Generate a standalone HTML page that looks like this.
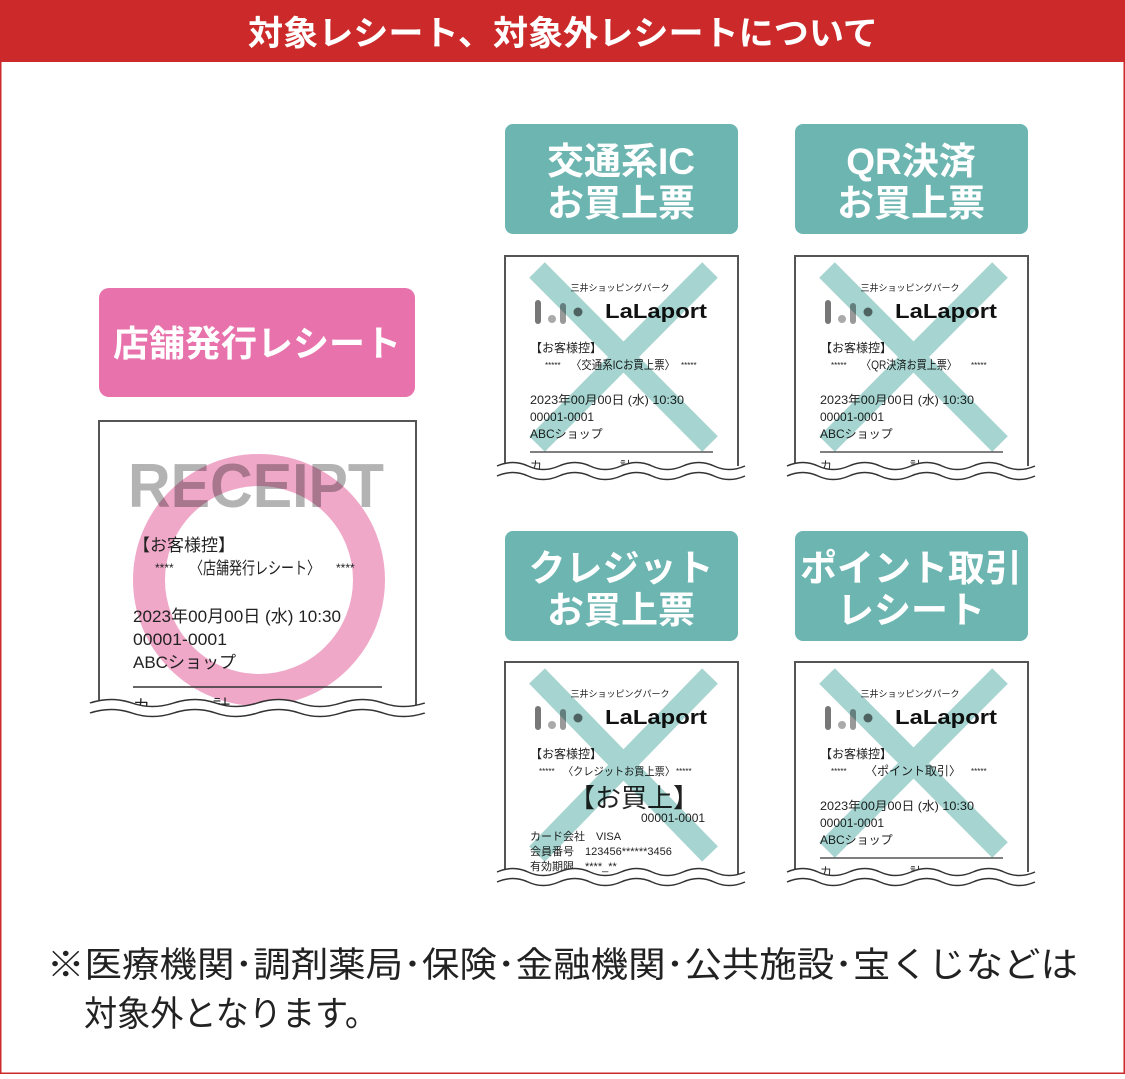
<!DOCTYPE html>
<html><head><meta charset="utf-8"><style>
html,body{margin:0;padding:0;background:#fff}
svg text{font-family:"Liberation Sans","Noto Sans CJK JP",sans-serif}
</style></head><body>
<svg width="1125" height="1074" viewBox="0 0 1125 1074" xmlns="http://www.w3.org/2000/svg">
<defs>
<g id="wave">
<path d="M0,6 q16,-7 31,0 t31,0 t31,0 t31,0 t31,0 t31,0 t31,0 t31,0 V30 H0 Z" fill="#fff" stroke="none"/>
<path d="M0,6 q16,-7 31,0 t31,0 t31,0 t31,0 t31,0 t31,0 t31,0 t31,0" fill="none" stroke="#333" stroke-width="1.5"/>
<path d="M0,16 q16,-7 31,0 t31,0 t31,0 t31,0 t31,0 t31,0 t31,0 t31,0" fill="none" stroke="#333" stroke-width="1.5"/>
</g>
<g id="logo">
<text x="115" y="35" font-size="9" text-anchor="middle" fill="#222">三井ショッピングパーク</text>
<rect x="30" y="44" width="6" height="24" rx="3" fill="#777"/>
<circle cx="47" cy="63" r="4" fill="#aaa"/>
<rect x="55" y="47" width="6" height="21" rx="3" fill="#999"/>
<circle cx="73" cy="56" r="4.5" fill="#777"/>
<text x="100" y="62" font-size="20" font-weight="bold" fill="#111" textLength="102" lengthAdjust="spacingAndGlyphs">LaLaport</text>
</g>
</defs>
<rect x="0.75" y="0.75" width="1123.5" height="1072.5" fill="#fff" stroke="#cc2a2a" stroke-width="1.5"/>
<rect x="0" y="0" width="1125" height="62" fill="#cc2a2a"/>
<text x="248" y="45" font-size="34" font-weight="bold" fill="#fff" textLength="630" lengthAdjust="spacingAndGlyphs">対象レシート、対象外レシートについて</text>

<!-- Pink label -->
<rect x="99" y="288" width="316" height="109" rx="10" fill="#e872ab"/>
<text x="257" y="356" font-size="36" font-weight="bold" fill="#fff" text-anchor="middle">店舗発行レシート</text>

<!-- Left receipt -->
<path d="M99,705 V421 H416 V705" fill="none" stroke="#555" stroke-width="2"/>
<text x="128" y="507" font-size="62" font-weight="bold" fill="#b3b3b3" textLength="256" lengthAdjust="spacingAndGlyphs">RECEIPT</text>
<circle cx="259" cy="580" r="110" fill="none" stroke="#f0a8c9" stroke-width="32" style="mix-blend-mode:multiply"/>
<g font-size="17" fill="#222">
<text x="133" y="551">【お客様控】</text>
<text x="155" y="572" font-size="12">****</text>
<text x="190" y="574" textLength="130" lengthAdjust="spacingAndGlyphs">〈店舗発行レシート〉</text>
<text x="336" y="572" font-size="12">****</text>
<text x="133" y="622" textLength="208" lengthAdjust="spacingAndGlyphs">2023年00月00日 (水) 10:30</text>
<text x="133" y="645" textLength="94" lengthAdjust="spacingAndGlyphs">00001-0001</text>
<text x="133" y="668">ABCショップ</text>
<text x="133" y="712">カ</text><text x="213" y="712">計</text>
</g>
<line x1="133" y1="687" x2="382" y2="687" stroke="#333" stroke-width="1.5"/>
<g transform="translate(90,697) scale(1.35,1)"><use href="#wave"/></g>

<!-- Teal labels -->
<g fill="#6cb5b1">
<rect x="505" y="124" width="233" height="110" rx="8"/>
<rect x="795" y="124" width="233" height="110" rx="8"/>
<rect x="505" y="531" width="233" height="110" rx="8"/>
<rect x="795" y="531" width="233" height="110" rx="8"/>
</g>
<g font-size="37" font-weight="bold" fill="#fff" text-anchor="middle">
<text x="621" y="174">交通系IC</text><text x="621" y="216">お買上票</text>
<text x="911" y="174">QR決済</text><text x="911" y="216">お買上票</text>
<text x="621" y="581">クレジット</text><text x="621" y="623">お買上票</text>
<text x="911" y="581">ポイント取引</text><text x="911" y="623">レシート</text>
</g>

<!-- Receipt 1 -->
<g transform="translate(505,256)">
<path d="M0,210 V0 H233 V210" fill="none" stroke="#555" stroke-width="2"/>
<use href="#logo"/>
<g font-size="12" fill="#222">
<text x="25" y="96">【お客様控】</text>
<text x="40" y="112" font-size="8">*****</text>
<text x="66" y="113" textLength="104" lengthAdjust="spacingAndGlyphs">〈交通系ICお買上票〉</text>
<text x="176" y="112" font-size="8">*****</text>
<text x="25" y="148" textLength="154" lengthAdjust="spacingAndGlyphs">2023年00月00日 (水) 10:30</text>
<text x="25" y="165">00001-0001</text>
<text x="25" y="182">ABCショップ</text>
<text x="25" y="214">カ</text><text x="115" y="214">計</text>
</g>
<line x1="25" y1="196" x2="208" y2="196" stroke="#333" stroke-width="1.2"/>
<g stroke="#a6d4d0" stroke-width="22" style="mix-blend-mode:multiply"><line x1="32" y1="14" x2="205" y2="188"/><line x1="205" y1="14" x2="32" y2="188"/></g>
<g transform="translate(-8,204)"><use href="#wave"/></g>
</g>

<!-- Receipt 2 -->
<g transform="translate(795,256)">
<path d="M0,210 V0 H233 V210" fill="none" stroke="#555" stroke-width="2"/>
<use href="#logo"/>
<g font-size="12" fill="#222">
<text x="25" y="96">【お客様控】</text>
<text x="36" y="112" font-size="8">*****</text>
<text x="66" y="113" textLength="96" lengthAdjust="spacingAndGlyphs">〈QR決済お買上票〉</text>
<text x="176" y="112" font-size="8">*****</text>
<text x="25" y="148" textLength="154" lengthAdjust="spacingAndGlyphs">2023年00月00日 (水) 10:30</text>
<text x="25" y="165">00001-0001</text>
<text x="25" y="182">ABCショップ</text>
<text x="25" y="214">カ</text><text x="115" y="214">計</text>
</g>
<line x1="25" y1="196" x2="208" y2="196" stroke="#333" stroke-width="1.2"/>
<g stroke="#a6d4d0" stroke-width="22" style="mix-blend-mode:multiply"><line x1="32" y1="14" x2="205" y2="188"/><line x1="205" y1="14" x2="32" y2="188"/></g>
<g transform="translate(-8,204)"><use href="#wave"/></g>
</g>

<!-- Receipt 3 -->
<g transform="translate(505,662)">
<path d="M0,215 V0 H233 V215" fill="none" stroke="#555" stroke-width="2"/>
<use href="#logo"/>
<g font-size="12" fill="#222">
<text x="25" y="96">【お客様控】</text>
<text x="34" y="112" font-size="8">*****</text>
<text x="58" y="113" font-size="11" textLength="112" lengthAdjust="spacingAndGlyphs">〈クレジットお買上票〉</text>
<text x="171" y="112" font-size="8">*****</text>
<text x="64" y="145" font-size="26">【お買上】</text>
<text x="136" y="160">00001-0001</text>
<text x="25" y="178" font-size="11">カード会社　VISA</text>
<text x="25" y="193" font-size="11">会員番号　123456******3456</text>
<text x="25" y="208" font-size="11">有効期限　****_**</text>
</g>
<g stroke="#a6d4d0" stroke-width="22" style="mix-blend-mode:multiply"><line x1="32" y1="14" x2="205" y2="192"/><line x1="205" y1="14" x2="32" y2="192"/></g>
<g transform="translate(-8,204)"><use href="#wave"/></g>
</g>

<!-- Receipt 4 -->
<g transform="translate(795,662)">
<path d="M0,210 V0 H233 V210" fill="none" stroke="#555" stroke-width="2"/>
<use href="#logo"/>
<g font-size="12" fill="#222">
<text x="25" y="96">【お客様控】</text>
<text x="36" y="112" font-size="8">*****</text>
<text x="70" y="113">〈ポイント取引〉</text>
<text x="176" y="112" font-size="8">*****</text>
<text x="25" y="148" textLength="154" lengthAdjust="spacingAndGlyphs">2023年00月00日 (水) 10:30</text>
<text x="25" y="165">00001-0001</text>
<text x="25" y="182">ABCショップ</text>
<text x="25" y="214">カ</text><text x="115" y="214">計</text>
</g>
<line x1="25" y1="196" x2="208" y2="196" stroke="#333" stroke-width="1.2"/>
<g stroke="#a6d4d0" stroke-width="22" style="mix-blend-mode:multiply"><line x1="32" y1="14" x2="205" y2="188"/><line x1="205" y1="14" x2="32" y2="188"/></g>
<g transform="translate(-8,204)"><use href="#wave"/></g>
</g>

<text x="47" y="977" font-size="35" fill="#222" textLength="1031" lengthAdjust="spacingAndGlyphs">※医療機関･調剤薬局･保険･金融機関･公共施設･宝くじなどは</text>
<text x="84" y="1026" font-size="35" fill="#222" textLength="294" lengthAdjust="spacingAndGlyphs">対象外となります。</text>
</svg>
</body></html>
